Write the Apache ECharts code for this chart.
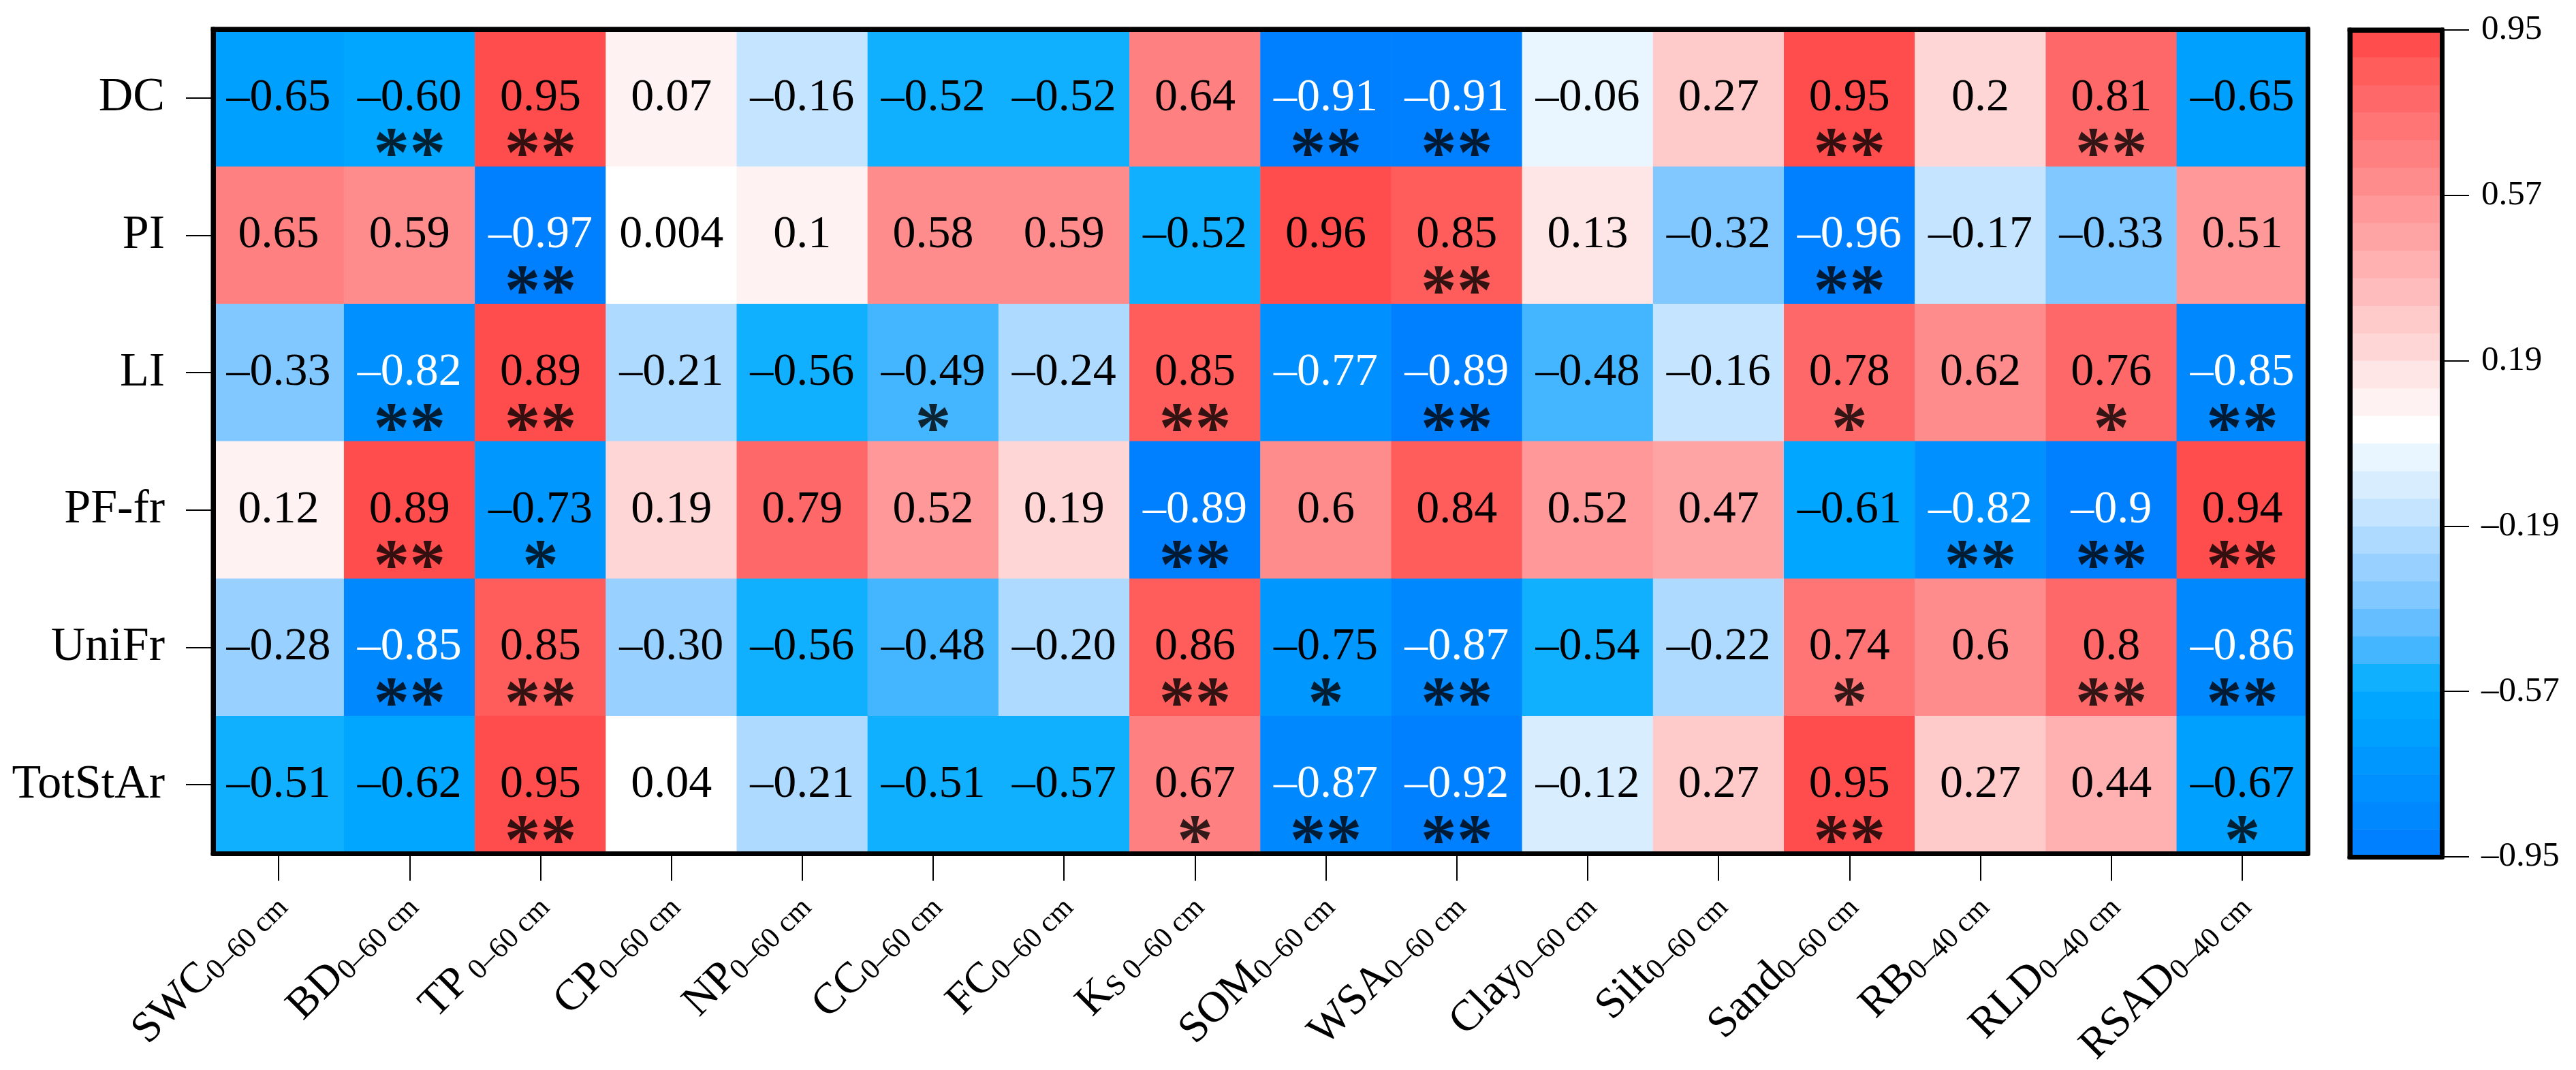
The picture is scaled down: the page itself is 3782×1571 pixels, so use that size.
<!DOCTYPE html>
<html>
<head>
<meta charset="utf-8">
<script src="https://cdn.jsdelivr.net/npm/echarts@6/dist/echarts.min.js"></script>
<style>
  html, body { margin: 0; padding: 0; background: #fff; }
  #chart { width: 3782px; height: 1571px; }
</style>
</head>
<body>
<div id="chart"></div>
<script>
// x categories and their depth subscripts
var columns = ["SWC", "BD", "TP", "CP", "NP", "CC", "FC", "K", "SOM", "WSA", "Clay", "Silt", "Sand", "RB", "RLD", "RSAD"];
var depths = ["0–60 cm", "0–60 cm", " 0–60 cm", "0–60 cm", "0–60 cm", "0–60 cm", "0–60 cm", "S 0–60 cm",
  "0–60 cm", "0–60 cm", "0–60 cm", "0–60 cm", "0–60 cm", "0–40 cm", "0–40 cm", "0–40 cm"];
var rows = ["DC", "PI", "LI", "PF-fr", "UniFr", "TotStAr"];

// correlation coefficients, as printed
var dc = ["-0.65", "-0.60", "0.95", "0.07", "-0.16", "-0.52", "-0.52", "0.64", "-0.91", "-0.91", "-0.06", "0.27", "0.95", "0.2", "0.81", "-0.65"];
var pi = ["0.65", "0.59", "-0.97", "0.004", "0.1", "0.58", "0.59", "-0.52", "0.96", "0.85", "0.13", "-0.32", "-0.96", "-0.17", "-0.33", "0.51"];
var li = ["-0.33", "-0.82", "0.89", "-0.21", "-0.56", "-0.49", "-0.24", "0.85", "-0.77", "-0.89", "-0.48", "-0.16", "0.78", "0.62", "0.76", "-0.85"];
var pfFr = ["0.12", "0.89", "-0.73", "0.19", "0.79", "0.52", "0.19", "-0.89", "0.6", "0.84", "0.52", "0.47", "-0.61", "-0.82", "-0.9", "0.94"];
var uniFr = ["-0.28", "-0.85", "0.85", "-0.30", "-0.56", "-0.48", "-0.20", "0.86", "-0.75", "-0.87", "-0.54", "-0.22", "0.74", "0.6", "0.8", "-0.86"];
var totStAr = ["-0.51", "-0.62", "0.95", "0.04", "-0.21", "-0.51", "-0.57", "0.67", "-0.87", "-0.92", "-0.12", "0.27", "0.95", "0.27", "0.44", "-0.67"];

// significance marks
var dcSig = ["", "**", "**", "", "", "", "", "", "**", "**", "", "", "**", "", "**", ""];
var piSig = ["", "", "**", "", "", "", "", "", "", "**", "", "", "**", "", "", ""];
var liSig = ["", "**", "**", "", "", "*", "", "**", "", "**", "", "", "*", "", "*", "**"];
var pfFrSig = ["", "**", "*", "", "", "", "", "**", "", "", "", "", "", "**", "**", "**"];
var uniFrSig = ["", "**", "**", "", "", "", "", "**", "*", "**", "", "", "*", "", "**", "**"];
var totStArSig = ["", "", "**", "", "", "", "", "*", "**", "**", "", "", "**", "", "", "*"];

// colour bar tick labels
var barTicks = ["-0.95", "-0.57", "-0.19", "0.19", "0.57", "0.95"];

(function () {
  var myChart = echarts.init(document.getElementById("chart"));
  var font = "Liberation Serif";
  var values = [dc, pi, li, pfFr, uniFr, totStAr];
  var sigs = [dcSig, piSig, liSig, pfFrSig, uniFrSig, totStArSig];

  // stepped palette, low -> high
  var palette = [
    "#0080ff", "#0088ff", "#0090ff", "#0098ff", "#00a0ff", "#00a6ff", "#10b0ff", "#44b6ff",
    "#64beff", "#80c8ff", "#98d0ff", "#aedaff", "#c4e4ff", "#d8eeff", "#eaf6ff", "#ffffff",
    "#fff2f2", "#ffe6e6", "#ffd6d6", "#ffcaca", "#ffbcbc", "#ffb0b0", "#ffa4a4", "#ff9898",
    "#ff8c8c", "#ff8080", "#ff7474", "#ff6868", "#ff5c5c", "#ff4d4d"
  ];
  var lo = -0.95, hi = 0.95;
  var step = (hi - lo) / palette.length;
  var pieces = palette.map(function (c, k) {
    var p = { color: c };
    if (k > 0) p.gte = lo + k * step - 1e-9;
    if (k < palette.length - 1) p.lt = lo + (k + 1) * step - 1e-9;
    return p;
  });

  function dash(s) { return s.replace("-", "–"); }

  var cells = [];
  var stars = [];
  values.forEach(function (row, r) {
    row.forEach(function (s, c) {
      var v = parseFloat(s);
      cells.push({
        value: [c, r, v],
        txt: dash(s),
        label: { color: v < -0.76 ? "#fff" : "#000" }
      });
      if (sigs[r][c]) stars.push({ value: [c, r], mark: sigs[r][c] });
    });
  });

  var barCells = palette.map(function (c, k) {
    return [0, k, lo + (k + 0.5) * step];
  });

  var frame = { show: true, lineStyle: { color: "#000", width: 7 } };
  var tick = { show: true, length: 40, lineStyle: { color: "#000", width: 2 } };

  var option = {
    animation: false,
    grid: [
      { left: 313, top: 43, width: 3075, height: 1210, show: true, borderColor: "#000", borderWidth: 7 },
      { left: 3450, top: 44, width: 135, height: 1214, show: true, borderColor: "#000", borderWidth: 7 }
    ],
    xAxis: [
      {
        type: "category", data: columns, gridIndex: 0, position: "bottom", z: 10,
        axisLine: frame,
        axisTick: { show: true, alignWithLabel: true, length: 40, lineStyle: { color: "#000", width: 2 } },
        axisLabel: {
          rotate: 45, margin: 66, interval: 0,
          formatter: function (v, i) { return "{m|" + v + "}{s|" + depths[i] + "}"; },
          rich: {
            m: { fontSize: 64, fontFamily: font, color: "#000", lineHeight: 64, verticalAlign: "top" },
            s: { fontSize: 43, fontFamily: font, color: "#000", lineHeight: 43, padding: [29, 0, 0, 0], verticalAlign: "bottom" }
          }
        }
      },
      {
        type: "category", data: columns, gridIndex: 0, position: "top", z: 10,
        axisLine: frame, axisTick: { show: false }, axisLabel: { show: false }
      },
      {
        type: "category", data: [""], gridIndex: 1, position: "bottom", z: 10,
        axisLine: frame, axisTick: { show: false }, axisLabel: { show: false }
      },
      {
        type: "category", data: [""], gridIndex: 1, position: "top", z: 10,
        axisLine: frame, axisTick: { show: false }, axisLabel: { show: false }
      }
    ],
    yAxis: [
      {
        type: "category", data: rows, gridIndex: 0, inverse: true, position: "left", z: 10,
        axisLine: frame,
        axisTick: { show: true, alignWithLabel: true, length: 40, lineStyle: { color: "#000", width: 2 } },
        axisLabel: { fontSize: 70, fontFamily: font, color: "#000", margin: 71 }
      },
      {
        type: "category", data: rows, gridIndex: 0, inverse: true, position: "right", z: 10,
        axisLine: frame, axisTick: { show: false }, axisLabel: { show: false }
      },
      {
        type: "category", data: palette.map(function (c, k) { return k; }), gridIndex: 1, position: "left", z: 10,
        axisLine: frame, axisTick: { show: false }, axisLabel: { show: false }
      },
      {
        type: "value", gridIndex: 1, position: "right", min: 0, max: barTicks.length - 1, interval: 1, z: 10,
        axisLine: frame, axisTick: tick, splitLine: { show: false },
        axisLabel: {
          fontSize: 51, fontFamily: font, color: "#000", margin: 58,
          formatter: function (v) { return dash(barTicks[v]); }
        }
      }
    ],
    visualMap: {
      type: "piecewise", show: false, seriesIndex: [0, 2], dimension: 2, pieces: pieces
    },
    series: [
      {
        type: "heatmap", xAxisIndex: 0, yAxisIndex: 0, data: cells,
        emphasis: { disabled: true },
        label: {
          show: true, fontSize: 68, fontFamily: font,
          formatter: function (p) { return p.data.txt; }
        }
      },
      {
        type: "scatter", xAxisIndex: 0, yAxisIndex: 0, data: stars, z: 5,
        symbol: "circle", symbolSize: 1, silent: true,
        itemStyle: { color: "rgba(0,0,0,0)" },
        label: {
          show: true, position: "inside", offset: [0, 88],
          fontSize: 106, fontWeight: "bold", fontFamily: font, color: "#000",
          formatter: function (p) { return p.data.mark; }
        }
      },
      {
        type: "heatmap", xAxisIndex: 2, yAxisIndex: 2, data: barCells,
        emphasis: { disabled: true }, silent: true
      }
    ]
  };

  myChart.setOption(option);
  window.addEventListener("resize", function () {
    myChart.resize();
  });
})();
</script>
</body>
</html>
